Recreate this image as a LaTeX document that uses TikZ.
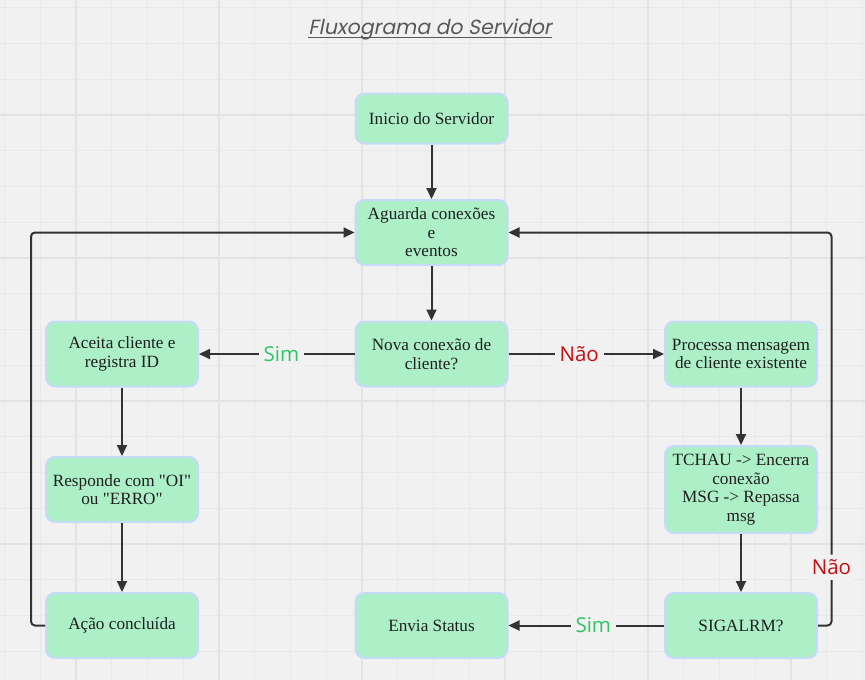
\documentclass[tikz,border=0pt]{standalone}
\usepackage{fontspec}
\setmainfont{Liberation Serif}
\newfontfamily\labelfont{Open Sans}
\newfontfamily\titlefont{Poppins}[FakeSlant=0.2]
\newcommand\sq{\XeTeXglyph\XeTeXglyphindex "quotedbl"\relax}
\usetikzlibrary{arrows.meta}
\definecolor{bg}{HTML}{F1F1F1}
\definecolor{gridminor}{HTML}{E8E8E8}
\definecolor{gridmajor}{HTML}{E3E3E3}
\definecolor{boxfill}{HTML}{ADF0C8}
\definecolor{boxdraw}{HTML}{C6DAFA}
\definecolor{linec}{HTML}{333333}
\definecolor{simgreen}{HTML}{2FC466}
\definecolor{naored}{HTML}{C40F0F}
\definecolor{titlegray}{HTML}{595959}
\begin{document}
\begin{tikzpicture}[x=1pt,y=-1pt,
  box/.style={draw=boxdraw, line width=2pt, fill=boxfill, rounded corners=9pt,
    minimum width=152pt, minimum height=65pt, inner sep=2pt, align=center,
    font=\fontsize{17.2}{18.5}\selectfont, text=black!88},
  conn/.style={draw=linec, line width=2pt, -{Triangle[length=11pt,width=10pt]}},
  lbl/.style={fill=bg, inner sep=5pt, font=\labelfont\fontsize{20.5}{24}\selectfont},
  simlbl/.style={lbl, text=simgreen},
  naolbl/.style={lbl, text=naored},
]
\fill[bg] (0,0) rectangle (865,680);
\useasboundingbox (0,0) rectangle (865,680);
% grid
\foreach \i in {0,...,24} \draw[gridminor, line width=1pt] ({4.5+35.75*\i},0) -- ({4.5+35.75*\i},680);
\foreach \j in {0,...,19} \draw[gridminor, line width=1pt] (0,{7.5+35.75*\j}) -- (865,{7.5+35.75*\j});
\foreach \i in {0,...,5} \draw[gridmajor, line width=1.5pt] ({76+143*\i},0) -- ({76+143*\i},680);
\foreach \j in {0,...,3} \draw[gridmajor, line width=1.5pt] (0,{114.75+143*\j}) -- (865,{114.75+143*\j});

% title
\node[font=\titlefont\fontsize{20.5}{24}\selectfont, text=titlegray, anchor=base, inner sep=0pt] (title) at (430,34.5) {Fluxograma do Servidor};
\draw[titlegray, line width=1.3pt] ([yshift=-3pt]title.base west) -- ([yshift=-3pt]title.base east);

% nodes
\node[box, minimum height=50pt] (ini) at (431.5,118.5) {Inicio do Servidor};
\node[box] (agu) at (431.5,232.5) {Aguarda conexões\\e\\eventos};
\node[box] (nova) at (431.5,354) {Nova conexão de\\cliente?};
\node[box] (aceita) at (122,354) {Aceita cliente e\\registra ID};
\node[box] (proc) at (741,354) {Processa mensagem\\de cliente existente};
\node[box, minimum height=87pt] (tchau) at (741,489.5) {TCHAU -> Encerra\\conexão\\MSG -> Repassa\\msg};
\node[box] (sig) at (741,625.5) {SIGALRM?};
\node[box] (resp) at (122,489.5) {Responde com \sq OI\sq\\ou \sq ERRO\sq};
\node[box] (acao) at (122,625.5) {Ação concluída};
\node[box] (envia) at (431.5,625.5) {Envia Status};

\coordinate (lb) at (31,625.5);
\coordinate (lt) at (31,232.5);
\coordinate (rb) at (831.5,625.5);
\coordinate (rt) at (831.5,232.5);

% connectors
\draw[conn] (ini) -- (agu);
\draw[conn] (agu) -- (nova);
\draw[conn] (nova) -- node[simlbl, pos=0.47] {Sim} (aceita);
\draw[conn] (nova) -- node[naolbl, pos=0.455] {Não} (proc);
\draw[conn] (aceita) -- (resp);
\draw[conn] (resp) -- (acao);
\draw[conn] (proc) -- (tchau);
\draw[conn] (tchau) -- (sig);
\draw[conn] (sig) -- node[simlbl, pos=0.455] {Sim} (envia);
\draw[conn, rounded corners=4pt] (acao.west) -- (lb) -- (lt) -- (agu.west);
\draw[conn, rounded corners=4pt] (sig.east) -- (rb) -- node[naolbl, pos=0.148] {Não} (rt) -- (agu.east);
\end{tikzpicture}
\end{document}
